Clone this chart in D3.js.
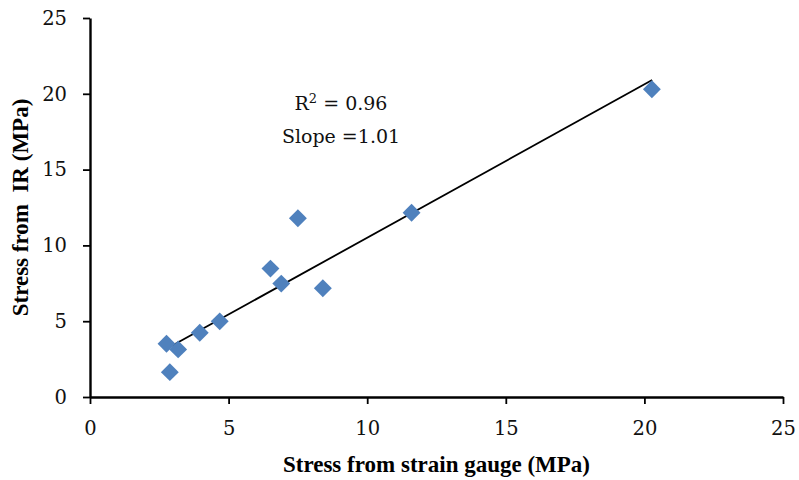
<!DOCTYPE html>
<html>
<head>
<meta charset="utf-8">
<script src="https://cdn.jsdelivr.net/npm/d3@7"></script>
<style>
  html, body { margin: 0; padding: 0; background: #fff; }
  svg { display: block; }
</style>
</head>
<body>
<div id="chart"></div>
<script>
// Measured points: stress from strain gauge vs stress from IR (MPa)
const gaugeStress = [2.76, 3.18, 2.88, 3.96, 4.68, 6.51, 6.90, 7.50, 8.40, 11.60, 20.27];
const irStress    = [3.51, 3.14, 1.64, 4.24, 4.99, 8.47, 7.48, 11.79, 7.17, 12.15, 20.30];

// Linear trendline end points
const trendX = [2.76, 20.28];
const trendY = [3.18, 20.91];

const xTicks = [0, 5, 10, 15, 20, 25];
const yTicks = [0, 5, 10, 15, 20, 25];

const rSquaredLabel = "0.96";
const slopeLabel = "Slope =1.01";

const width = 799, height = 480;
const margin = { top: 18, right: 16, bottom: 83, left: 90 };

const svg = d3.select("#chart").append("svg")
  .attr("width", width)
  .attr("height", height);

const x = d3.scaleLinear()
  .domain([0, 25])
  .range([margin.left, width - margin.right]);

const y = d3.scaleLinear()
  .domain([0, 25])
  .range([height - margin.bottom, margin.top]);

const tickFont = "'DejaVu Serif', serif";
const titleFont = "'Liberation Serif', 'Times New Roman', serif";

// X axis
const xAxis = svg.append("g")
  .attr("transform", `translate(0,${y(0)})`)
  .call(d3.axisBottom(x).tickValues(xTicks).tickSize(7).tickSizeOuter(0).tickPadding(17));

// Y axis
const yAxis = svg.append("g")
  .attr("transform", `translate(${x(0)},0)`)
  .call(d3.axisLeft(y).tickValues(yTicks).tickSize(7).tickSizeOuter(0).tickPadding(16));

[xAxis, yAxis].forEach(g => {
  g.select(".domain").attr("stroke", "#000").attr("stroke-width", 2.4);
  g.selectAll(".tick line").attr("stroke", "#000").attr("stroke-width", 1.8);
  g.selectAll(".tick text")
    .attr("fill", "#111")
    .style("font-family", tickFont)
    .style("font-size", "19.5px");
});

// Trendline
const line = d3.line()
  .x(d => x(d[0]))
  .y(d => y(d[1]));

svg.append("path")
  .datum(d3.zip(trendX, trendY))
  .attr("d", line)
  .attr("fill", "none")
  .attr("stroke", "#000")
  .attr("stroke-width", 1.8);

// Diamond markers
const diamond = d3.symbol().type(d3.symbolSquare).size(160);

svg.append("g")
  .selectAll("path")
  .data(d3.zip(gaugeStress, irStress))
  .enter()
  .append("path")
  .attr("d", diamond)
  .attr("transform", d => `translate(${x(d[0])},${y(d[1])}) rotate(45)`)
  .attr("fill", "#4F81BD");

// Annotation
const note = svg.append("g")
  .attr("fill", "#111")
  .style("font-family", tickFont)
  .style("font-size", "19px")
  .attr("text-anchor", "middle");

const r2 = note.append("text")
  .attr("x", 341)
  .attr("y", 110);
r2.append("tspan").text("R");
r2.append("tspan").attr("dy", -7).style("font-size", "13px").text("2");
r2.append("tspan").attr("dy", 7).text(" = " + rSquaredLabel);

note.append("text")
  .attr("x", 341)
  .attr("y", 143)
  .text(slopeLabel);

// Axis titles
svg.append("text")
  .attr("x", (x(0) + x(25)) / 2)
  .attr("y", 472)
  .attr("text-anchor", "middle")
  .style("font-family", titleFont)
  .style("font-size", "23px")
  .style("font-weight", "bold")
  .text("Stress from strain gauge (MPa)");

svg.append("text")
  .attr("transform", `translate(28,${(y(0) + y(25)) / 2}) rotate(-90)`)
  .attr("text-anchor", "middle")
  .style("font-family", titleFont)
  .style("font-size", "23px")
  .style("font-weight", "bold")
  .style("white-space", "pre")
  .text("Stress from  IR (MPa)");
</script>
</body>
</html>
